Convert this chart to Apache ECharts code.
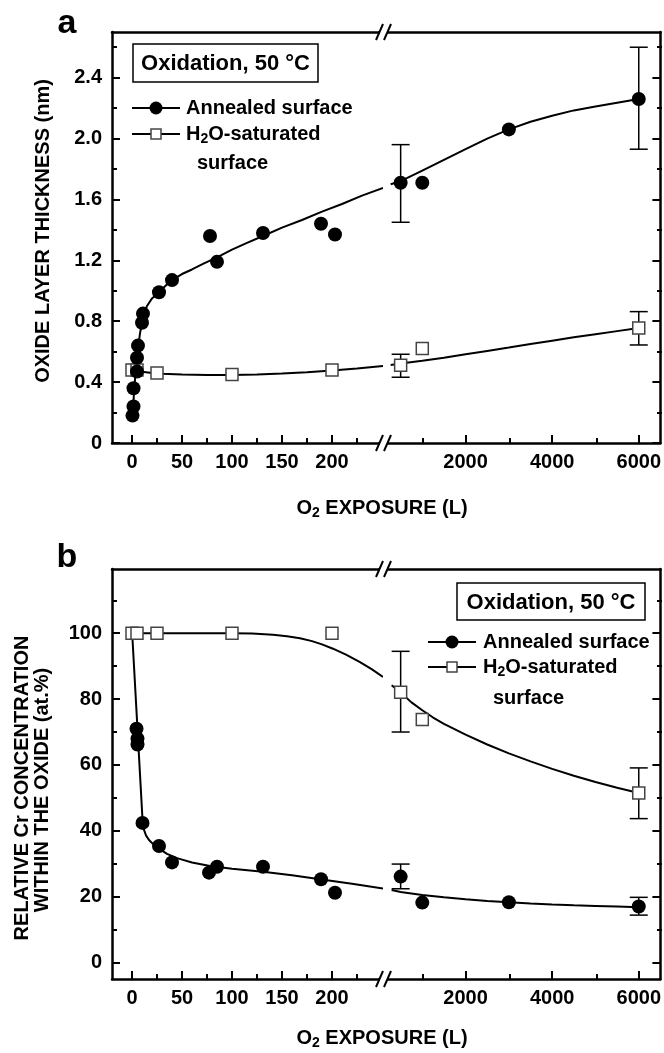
<!DOCTYPE html>
<html>
<head>
<meta charset="utf-8">
<script src="https://cdn.jsdelivr.net/npm/echarts@6/dist/echarts.min.js"></script>
<style>
html,body{margin:0;padding:0;background:#fff;}
#chart{width:664px;height:1053px;}
</style>
</head>
<body>
<div id="chart"></div>
<script>
// ---------------- DATA ----------------
// Panel a: oxide layer thickness (nm)
var expAnnealedA = [0.5, 1.5, 1.5, 5, 5, 6, 10, 11, 27, 40, 78, 85, 131, 189, 203, 500, 1000, 3000, 6000];
var thkAnnealedA = [0.18, 0.24, 0.36, 0.47, 0.56, 0.64, 0.79, 0.85, 0.99, 1.07, 1.36, 1.19, 1.38, 1.44, 1.37, 1.71, 1.71, 2.06, 2.26];
var expH2OA = [0, 5, 25, 100, 200, 500, 1000, 6000];
var thkH2OA = [0.48, 0.48, 0.46, 0.45, 0.48, 0.51, 0.62, 0.755];
// error bars [x, low, high]
var errAnnealedA = [[500, 1.45, 1.96], [6000, 1.93, 2.60]];
var errH2OA = [[500, 0.432, 0.583], [6000, 0.644, 0.863]];
// fitted guide curves
var fitAnnealedA_left = [[0.5, 0.17], [2, 0.33], [4, 0.5], [6, 0.62], [8, 0.72], [10, 0.79], [12, 0.85], [15, 0.9], [20, 0.95], [27, 0.99], [33, 1.03], [40, 1.07], [50, 1.11], [60, 1.14], [72, 1.18], [85, 1.22], [100, 1.27], [115, 1.315], [131, 1.36], [150, 1.415], [170, 1.465], [190, 1.52], [210, 1.57], [230, 1.625], [251, 1.675]];
var fitAnnealedA_right = [[270, 1.70], [500, 1.72], [1000, 1.79], [1500, 1.86], [2000, 1.93], [2500, 2.0], [3000, 2.06], [3500, 2.11], [4000, 2.15], [4500, 2.185], [5000, 2.21], [5500, 2.235], [6000, 2.26]];
var fitH2OA_left = [[0, 0.48], [5, 0.475], [10, 0.468], [20, 0.46], [30, 0.455], [50, 0.45], [75, 0.447], [100, 0.446], [125, 0.45], [150, 0.456], [175, 0.465], [200, 0.477], [225, 0.49], [251, 0.506]];
var fitH2OA_right = [[270, 0.513], [500, 0.522], [1000, 0.54], [1500, 0.56], [2000, 0.583], [2500, 0.605], [3000, 0.627], [3500, 0.65], [4000, 0.672], [4500, 0.694], [5000, 0.715], [5500, 0.735], [6000, 0.755]];

// Panel b: relative Cr concentration (at.%)
var expAnnealedB = [4.5, 5.5, 5.5, 10.5, 27, 40, 77, 85, 131, 189, 203, 500, 1000, 3000, 6000];
var crAnnealedB = [71, 68, 66.2, 42.4, 35.4, 30.4, 27.3, 29.1, 29.1, 25.3, 21.2, 26.1, 18.2, 18.3, 17.0];
var expH2OB = [0, 5, 25, 100, 200, 500, 1000, 6000];
var crH2OB = [100, 100, 100, 100, 100, 82.1, 73.8, 51.5];
var errAnnealedB = [[500, 22.4, 29.9], [6000, 14.4, 19.8]];
var errH2OB = [[500, 70.0, 94.5], [6000, 43.7, 59.1]];
var fitAnnealedB_left = [[0.3, 99.3], [10.7, 42.4], [12, 40.3], [14, 38.6], [17, 37.2], [21, 36.0], [27, 34.6], [35, 33.0], [45, 31.7], [60, 30.4], [78, 29.3], [100, 28.5], [131, 27.6], [160, 26.5], [188, 25.3], [220, 23.9], [251, 22.5]];
var fitAnnealedB_right = [[292, 22.0], [500, 21.4], [1000, 20.5], [1500, 19.8], [2000, 19.2], [2500, 18.7], [3000, 18.3], [3500, 17.95], [4000, 17.65], [4500, 17.4], [5000, 17.2], [5500, 17.0], [6000, 16.8]];
var fitH2OB_left = [[0, 100], [50, 100], [100, 100], [120, 99.9], [141, 99.5], [155, 99.1], [168, 98.5], [180, 97.6], [190, 96.6], [201, 95.3], [214, 93.5], [228, 91.2], [240, 89.0], [251, 86.7]];
var fitH2OB_right = [[292, 84.2], [500, 82.0], [750, 79.0], [1000, 76.6], [1250, 74.4], [1500, 72.5], [2000, 69.2], [2500, 66.2], [3000, 63.5], [3500, 61.1], [4000, 58.8], [4500, 56.7], [5000, 54.8], [5500, 53.1], [6000, 51.5]];

// ticks
var xTicksLeft = [0, 50, 100, 150, 200];
var xMinorLeft = [25, 75, 125, 175, 225];
var xTicksRight = [2000, 4000, 6000];
var xMinorRight = [1000, 3000, 5000];
var yTicksA = [0, 0.4, 0.8, 1.2, 1.6, 2.0, 2.4];
var yMinorA = [0.2, 0.6, 1.0, 1.4, 1.8, 2.2, 2.6];
var yTicksB = [0, 20, 40, 60, 80, 100];
var yMinorB = [10, 30, 50, 70, 90, 110];

// ---------------- BUILD ----------------
var FONT = "'Liberation Sans', Arial, sans-serif";
var BREAK = 250;
function pairs(xs, ys, left) {
  var out = [];
  for (var i = 0; i < xs.length; i++) {
    if ((xs[i] <= BREAK) === left) out.push([xs[i], ys[i]]);
  }
  return out;
}

var panels = [
  {top: 32, height: 411, ymin: 0, ymax: 2.7, yTicks: yTicksA, yMinor: yMinorA,
   fmt: function (v) { return v === 0 ? '0' : v.toFixed(1); },
   annX: expAnnealedA, annY: thkAnnealedA, h2oX: expH2OA, h2oY: thkH2OA,
   errAnn: errAnnealedA, errH2O: errH2OA,
   fitAnn: [fitAnnealedA_left, fitAnnealedA_right], fitH2O: [fitH2OA_left, fitH2OA_right]},
  {top: 569, height: 410, ymin: -5, ymax: 119.5, yTicks: yTicksB, yMinor: yMinorB,
   fmt: function (v) { return String(v); },
   annX: expAnnealedB, annY: crAnnealedB, h2oX: expH2OB, h2oY: crH2OB,
   errAnn: errAnnealedB, errH2O: errH2OB,
   fitAnn: [fitAnnealedB_left, fitAnnealedB_right], fitH2O: [fitH2OB_left, fitH2OB_right]}
];

var grids = [], xAxes = [], yAxes = [], series = [];
var labelStyle = {color: '#000', fontFamily: FONT, fontWeight: 'bold', fontSize: 20};
var lineW = 2.5;
var tickStyle = {color: '#000', width: 2};
var hiddenLine = {show: false, onZero: false};

function errorSeries(data, xi, yi) {
  return {
    type: 'custom', xAxisIndex: xi, yAxisIndex: yi, z: 3, data: data,
    encode: {x: 0, y: [1, 2]}, clip: false,
    renderItem: function (params, api) {
      var x = api.value(0), lo = api.value(1), hi = api.value(2);
      var a = api.coord([x, hi]), b = api.coord([x, lo]);
      var w = 9, st = {stroke: '#000', lineWidth: 1.5};
      return {type: 'group', children: [
        {type: 'line', shape: {x1: a[0], y1: a[1], x2: b[0], y2: b[1]}, style: st},
        {type: 'line', shape: {x1: a[0] - w, y1: a[1], x2: a[0] + w, y2: a[1]}, style: st},
        {type: 'line', shape: {x1: b[0] - w, y1: b[1], x2: b[0] + w, y2: b[1]}, style: st}
      ]};
    }
  };
}

panels.forEach(function (p) {
  [0, 1].forEach(function (side) {
    var left = side === 0 ? 112 : 379;
    var width = side === 0 ? 270 : 283;
    var xmin = side === 0 ? -20 : 0, xmax = side === 0 ? 250 : 6500;
    var major = side === 0 ? xTicksLeft : xTicksRight;
    var minor = side === 0 ? xMinorLeft : xMinorRight;
    var pos = side === 0 ? 'left' : 'right';
    var isLeft = side === 0;

    // main grid
    var gi = grids.length;
    grids.push({left: left, top: p.top, width: width, height: p.height});
    var xMain = xAxes.length;
    xAxes.push({type: 'value', gridIndex: gi, position: 'bottom', min: xmin, max: xmax,
      axisLine: {show: true, onZero: false, lineStyle: {color: '#000', width: lineW}},
      axisTick: {show: true, inside: true, length: 8, customValues: major, lineStyle: tickStyle},
      axisLabel: Object.assign({show: true, margin: 9, customValues: major, formatter: function (v) { return String(v); }}, labelStyle),
      splitLine: {show: false}});
    xAxes.push({type: 'value', gridIndex: gi, position: 'top', min: xmin, max: xmax,
      axisLine: {show: true, onZero: false, lineStyle: {color: '#000', width: lineW}},
      axisTick: {show: false}, axisLabel: {show: false}, splitLine: {show: false}});
    var yMain = yAxes.length;
    yAxes.push({type: 'value', gridIndex: gi, position: pos, min: p.ymin, max: p.ymax,
      axisLine: {show: true, onZero: false, lineStyle: {color: '#000', width: lineW}},
      axisTick: {show: true, inside: true, length: 8, customValues: p.yTicks, lineStyle: tickStyle},
      axisLabel: isLeft ? Object.assign({show: true, margin: 10, customValues: p.yTicks, formatter: p.fmt}, labelStyle) : {show: false},
      splitLine: {show: false}});

    // overlapping grid carrying the minor ticks
    var gm = grids.length;
    grids.push({left: left, top: p.top, width: width, height: p.height});
    xAxes.push({type: 'value', gridIndex: gm, position: 'bottom', min: xmin, max: xmax,
      axisLine: hiddenLine,
      axisTick: {show: true, inside: true, length: 5, customValues: minor, lineStyle: tickStyle},
      axisLabel: {show: false}, splitLine: {show: false}});
    yAxes.push({type: 'value', gridIndex: gm, position: pos, min: p.ymin, max: p.ymax,
      axisLine: hiddenLine,
      axisTick: {show: true, inside: true, length: 5, customValues: p.yMinor, lineStyle: tickStyle},
      axisLabel: {show: false}, splitLine: {show: false}});

    // fitted curves
    series.push({type: 'line', xAxisIndex: xMain, yAxisIndex: yMain, data: p.fitAnn[side], showSymbol: false,
      smooth: false, z: 2, silent: true, lineStyle: {color: '#000', width: 2}});
    series.push({type: 'line', xAxisIndex: xMain, yAxisIndex: yMain, data: p.fitH2O[side], showSymbol: false,
      smooth: false, z: 2, silent: true, lineStyle: {color: '#000', width: 2}});
    if (!isLeft) {
      series.push(errorSeries(p.errAnn, xMain, yMain));
      series.push(errorSeries(p.errH2O, xMain, yMain));
    }
    series.push({type: 'scatter', xAxisIndex: xMain, yAxisIndex: yMain, data: pairs(p.h2oX, p.h2oY, isLeft),
      symbol: 'rect', symbolSize: 12, z: 4,
      itemStyle: {color: '#fff', borderColor: '#444', borderWidth: 1.5, opacity: 1}});
    series.push({type: 'scatter', xAxisIndex: xMain, yAxisIndex: yMain, data: pairs(p.annX, p.annY, isLeft),
      symbol: 'circle', symbolSize: 14, z: 5, itemStyle: {color: '#000', opacity: 1}});
  });
});

// ---------------- DECORATION ----------------
var measureCtx = document.createElement('canvas').getContext('2d');
function textWidth(t, size) {
  measureCtx.font = 'bold ' + size + 'px ' + FONT;
  return measureCtx.measureText(t).width;
}
var graphics = [];
function txt(x, y, text, size, extra) {
  var o = {type: 'text', x: x, y: y, z: 100, style: {text: text, fill: '#000', fontFamily: FONT, fontWeight: 'bold', fontSize: size, align: 'left', verticalAlign: 'middle'}};
  if (extra) { for (var k in extra.style || {}) o.style[k] = extra.style[k]; if (extra.rotation) o.rotation = extra.rotation; }
  return o;
}
// text made of pieces [string, size, dy]; align 'left' or 'center'
function pieces(x, y, parts, align) {
  var total = 0;
  parts.forEach(function (pt) { total += textWidth(pt[0], pt[1]); });
  var cx = align === 'center' ? x - total / 2 : x;
  parts.forEach(function (pt) {
    graphics.push(txt(cx, y + pt[2], pt[0], pt[1]));
    cx += textWidth(pt[0], pt[1]);
  });
}
// break marks
[32, 443, 569, 979].forEach(function (y) {
  graphics.push({type: 'rect', z: 100, shape: {x: 380, y: y - 3, width: 7, height: 6}, style: {fill: '#fff'}});
  graphics.push({type: 'line', z: 101, shape: {x1: 376, y1: y + 8, x2: 383, y2: y - 8}, style: {stroke: '#000', lineWidth: 2}});
  graphics.push({type: 'line', z: 101, shape: {x1: 384, y1: y + 8, x2: 391, y2: y - 8}, style: {stroke: '#000', lineWidth: 2}});
});
// panel letters
graphics.push(txt(67, 24, 'a', 34, {style: {align: 'center'}}));
graphics.push(txt(67, 558, 'b', 34, {style: {align: 'center'}}));
// y titles
graphics.push(txt(43, 231, 'OXIDE LAYER THICKNESS (nm)', 20, {rotation: Math.PI / 2, style: {align: 'center'}}));
graphics.push(txt(22, 788, 'RELATIVE Cr CONCENTRATION', 20, {rotation: Math.PI / 2, style: {align: 'center'}}));
graphics.push(txt(42, 790, 'WITHIN THE OXIDE (at.%)', 20, {rotation: Math.PI / 2, style: {align: 'center'}}));
// x titles
[[382, 508], [382, 1038]].forEach(function (c) {
  pieces(c[0], c[1], [['O', 20, 0], ['2', 14, 5], [' EXPOSURE (L)', 20, 0]], 'center');
});
// legends
function legendBlock(bx, by, bw, bh, lx, ly1, ly2, ly3, tx, tx3) {
  graphics.push({type: 'rect', z: 100, shape: {x: bx, y: by, width: bw, height: bh}, style: {fill: '#fff', stroke: '#000', lineWidth: 1.5}});
  graphics.push(txt(bx + bw / 2, by + bh / 2 + 1, 'Oxidation, 50 \u00B0C', 22, {style: {align: 'center'}}));
  graphics.push({type: 'line', z: 100, shape: {x1: lx, y1: ly1, x2: lx + 48, y2: ly1}, style: {stroke: '#000', lineWidth: 2}});
  graphics.push({type: 'circle', z: 101, shape: {cx: lx + 24, cy: ly1, r: 6.5}, style: {fill: '#000'}});
  graphics.push(txt(tx, ly1, 'Annealed surface', 20));
  graphics.push({type: 'line', z: 100, shape: {x1: lx, y1: ly2, x2: lx + 48, y2: ly2}, style: {stroke: '#000', lineWidth: 2}});
  graphics.push({type: 'rect', z: 101, shape: {x: lx + 19, y: ly2 - 5, width: 10, height: 10}, style: {fill: '#fff', stroke: '#444', lineWidth: 1.5}});
  pieces(tx, ly2, [['H', 20, 0], ['2', 14, 5], ['O-saturated', 20, 0]], 'left');
  graphics.push(txt(tx3, ly3, 'surface', 20));
}
legendBlock(133, 44, 185, 38, 132, 108, 134, 163, 186, 197);
legendBlock(457, 583, 188, 37, 428, 642, 667, 698, 483, 493);

var chart = echarts.init(document.getElementById('chart'), null, {renderer: 'canvas'});
chart.setOption({
  animation: false,
  backgroundColor: '#fff',
  grid: grids,
  xAxis: xAxes,
  yAxis: yAxes,
  series: series,
  graphic: graphics
});
</script>
</body>
</html>
